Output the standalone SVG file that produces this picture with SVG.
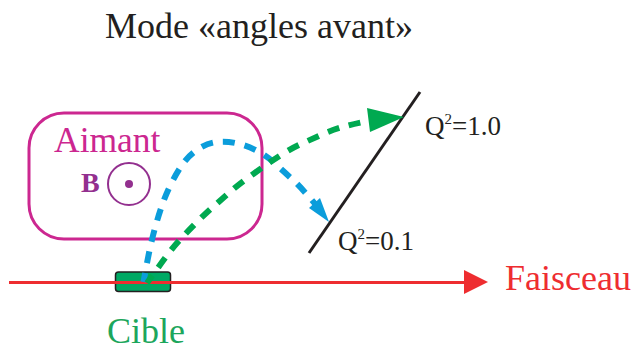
<svg xmlns="http://www.w3.org/2000/svg" width="631" height="347" viewBox="0 0 631 347">
<style>
text{font-family:"Liberation Serif","Times New Roman",serif}
.q{font-size:27px;fill:#231f20}
.s{font-size:15px;fill:#231f20}
.d{fill:none;stroke-width:6;stroke-dasharray:12 10;stroke-dashoffset:3}
</style>
<rect width="631" height="347" fill="#fff"/>
<g id="title"><text x="105" y="38" font-size="36" fill="#231f20">Mode «angles avant»</text></g>
<g id="aimant">
<rect x="29" y="113" width="233" height="126" rx="35" fill="none" stroke="#cc2790" stroke-width="3"/>
<text x="54" y="152" font-size="35.500" fill="#cc2790">Aimant</text>
</g>
<g id="champ-b">
<text x="81" y="192" font-size="28" font-weight="bold" fill="#93308f">B</text>
<circle cx="129" cy="184" r="21" fill="none" stroke="#93308f" stroke-width="2"/>
<circle cx="129" cy="184" r="4" fill="#93308f"/>
</g>
<g id="cible">
<rect x="115.500" y="272" width="55" height="19.500" rx="3" fill="#00a964" stroke="#231f20" stroke-width="1.500"/>
<text x="107" y="343" font-size="36" fill="#1ca65c">Cible</text>
</g>
<g id="detecteur">
<line x1="420" y1="92" x2="309" y2="253" stroke="#231f20" stroke-width="3"/>
<text class="q" x="425" y="135">Q<tspan class="s" dy="-11">2</tspan><tspan dy="11">=1.0</tspan></text>
<text class="q" x="338" y="250">Q<tspan class="s" dy="-11">2</tspan><tspan dy="11">=0.1</tspan></text>
</g>
<g id="connecteurs">
<line x1="9" y1="282.500" x2="468" y2="282.500" stroke="#ee2d30" stroke-width="3"/>
<polygon fill="#ee2d30" points="488,282 464,270 464,294"/>
<path class="d" stroke="#0b9ddb" d="M143.500 282Q148 257 150.500 246Q153 235 156 224.500Q159 214 162.500 204Q166 194 171 184Q176 174 182 165Q188 156 197.500 149.500Q207 143 217 142Q227 141 237.500 143.500Q248 146 257.500 151Q267 156 275 163.500Q283 171 291.500 178.500Q300 186 316 205"/>
<polygon fill="#0b9ddb" points="329,222 309,208 320,198"/>
<path class="d" stroke="#00a950" d="M147 283Q162 262 168.500 253.500Q175 245 182.500 237Q190 229 198 221Q206 213 214 206Q222 199 230 192Q238 185 247 178.500Q256 172 264.500 166Q273 160 282.500 154Q292 148 302 143.500Q312 139 322 134.500Q332 130 342.500 127Q353 124 368 121"/>
<polygon fill="#00a950" points="404,117 367,108 370,132"/>
</g>
<g id="faisceau"><text x="505" y="290" font-size="36" fill="#ee2d30">Faisceau</text></g>
</svg>
